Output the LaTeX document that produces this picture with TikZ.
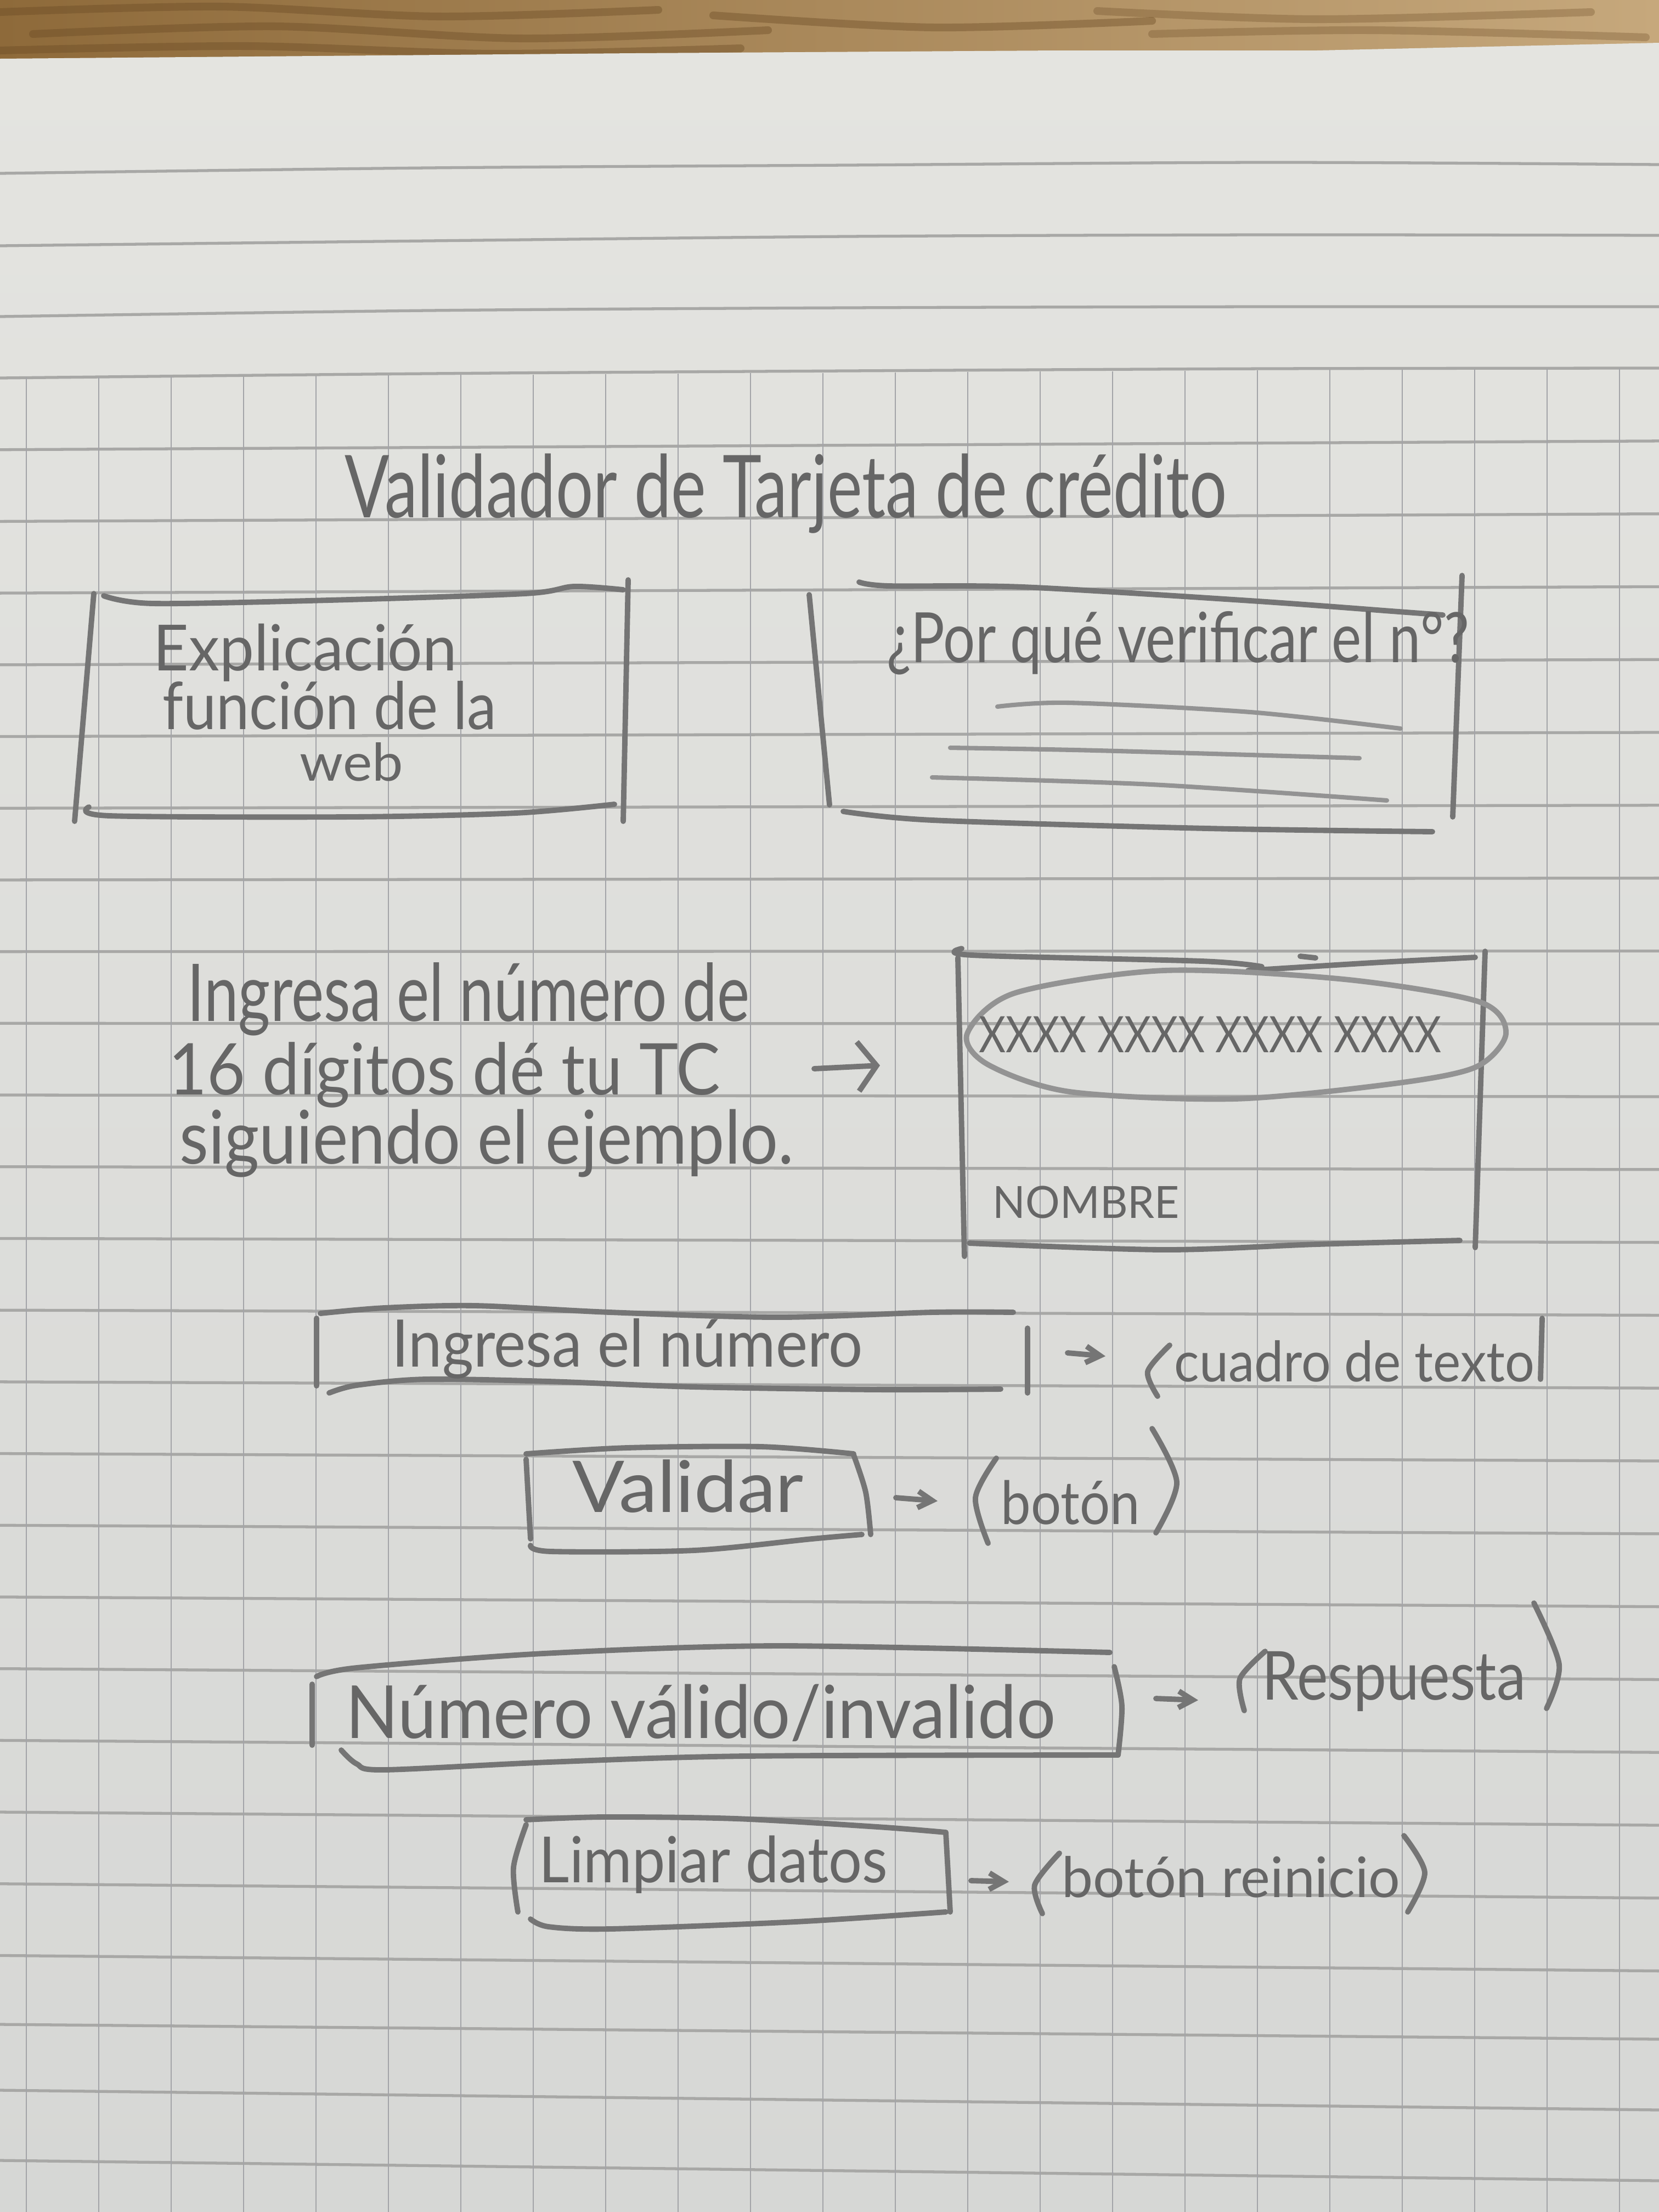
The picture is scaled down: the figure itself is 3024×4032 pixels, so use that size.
\documentclass[tikz,border=0pt]{standalone}
\usepackage{fontspec}
\setmainfont{Lato}
\usetikzlibrary{arrows.meta}

\definecolor{wood}{HTML}{8E6A3A}
\definecolor{woodlight}{HTML}{C6A87C}
\definecolor{wooddark}{HTML}{6A4A24}
\definecolor{papertop}{HTML}{E4E4E0}
\definecolor{paperbot}{HTML}{D6D7D5}
\definecolor{ruleh}{HTML}{A8A8A6}
\definecolor{rulev}{HTML}{A3A4A8}
\definecolor{lead}{HTML}{757575}
\definecolor{leadlight}{HTML}{939393}
\definecolor{ink}{HTML}{666666}

% handwritten line: width, font size, text
\newcommand{\hw}[3]{\resizebox{#1}{\height}{\fontsize{#2}{#2}\selectfont #3}}

\begin{document}
\begin{tikzpicture}[x=0.01cm,y=-0.01cm,
  pencil/.style={draw=lead,line width=2.8pt,line cap=round,line join=round},
  softpencil/.style={draw=leadlight,line width=2.3pt,line cap=round,line join=round},
  hand/.style={text=ink,inner sep=0pt,anchor=base west},
  hrule/.style={draw=ruleh,line width=1.5pt},
  vrule/.style={draw=rulev,line width=0.8pt},
  grain/.style={draw=wooddark,line width=4pt,opacity=0.4,line cap=round},
  bigarrow/.style={pencil,-{Straight Barb[length=0.34cm,width=0.9cm]}},
  smallarrow/.style={pencil,-{Straight Barb[length=0.26cm,width=0.3cm]}}]

\useasboundingbox (0,0) rectangle (3024,4032);

% ---- table top ----
\shade[left color=wood,right color=woodlight] (0,0) rectangle (3024,130);
\draw[grain] plot[smooth] coordinates {(0,22) (400,12) (800,30) (1200,18)};
\draw[grain] plot[smooth] coordinates {(60,62) (500,48) (950,70) (1400,55)};
\draw[grain] plot[smooth] coordinates {(0,92) (450,84) (900,98) (1350,88)};
\draw[grain] plot[smooth] coordinates {(1300,28) (1700,50) (2100,38)};
\draw[grain,opacity=0.3] plot[smooth] coordinates {(2000,20) (2400,35) (2900,22)};
\draw[grain,opacity=0.3] plot[smooth] coordinates {(2100,62) (2500,55) (3000,68)};

% ---- sheet ----
\shade[top color=papertop,bottom color=paperbot]
  (0,107) -- (1157,97) -- (1929,92) -- (2400,92) -- (3024,78) -- (3024,4032) -- (0,4032) -- cycle;

% ruled lines above the grid
\draw[hrule] plot[smooth] coordinates {(0,316) (780,306) (1543,301) (2314,296) (3024,300)};
\draw[hrule] plot[smooth] coordinates {(0,448) (780,439) (1543,431) (2314,428) (3024,429)};
\draw[hrule] plot[smooth] coordinates {(0,577) (780,566) (1543,561) (2314,559) (3024,559)};
\draw[hrule] plot[smooth] coordinates {(0,689) (780,681) (1543,676) (2314,672) (3024,671)};

% grid
\foreach \k in {1,...,22}{
  \pgfmathsetmacro\yl{689+130.7*\k}
  \pgfmathsetmacro\yr{\yl-18+2.1*\k}
  \draw[hrule] (0,\yl) -- (3024,\yr);
}
\draw[hrule] (0,3690) -- (3024,3717);
\draw[hrule] (0,3810) -- (3024,3846);
\draw[hrule] (0,3938) -- (3024,3975);
\foreach \j in {0,...,22}{
  \pgfmathsetmacro\xx{48+132*\j}
  \pgfmathsetmacro\yt{688-0.00562*\xx}
  \draw[vrule] (\xx,\yt) -- (\xx,4032);
}

% ---- title ----
\node[hand] (title) at (628,943) {\hw{16.07cm}{45pt}{Validador de Tarjeta de crédito}};

% ---- explanation panel ----
\draw[pencil] plot[smooth] coordinates {(189,1086) (279,1100) (600,1094) (957,1082) (1046,1069) (1136,1075)};
\draw[pencil] (171,1082) -- (136,1497);
\draw[pencil] (1145,1057) -- (1136,1497);
\draw[pencil] plot[smooth] coordinates {(162,1471) (200,1487) (640,1489) (940,1482) (1120,1466)};
\node[hand] (expl1) at (279,1222) {\hw{5.53cm}{33pt}{Explicación}};
\node[hand] (expl2) at (296,1329) {\hw{6.08cm}{34pt}{función de la}};
\node[hand] (expl3) at (546,1423) {\hw{1.88cm}{27pt}{web}};

% ---- "why" panel ----
\draw[pencil] plot[smooth] coordinates {(1566,1061) (1620,1068) (1865,1070) (2279,1095) (2550,1115) (2630,1121)};
\draw[pencil] (1475,1084) -- (1512,1467);
\draw[pencil] (2665,1049) -- (2648,1489);
\draw[pencil] plot[smooth] coordinates {(1537,1479) (1700,1495) (2200,1510) (2611,1516)};
\draw[softpencil] plot[smooth] coordinates {(1818,1288) (1948,1281) (2279,1298) (2553,1328)};
\draw[softpencil] plot[smooth] coordinates {(1732,1363) (2000,1368) (2478,1382)};
\draw[softpencil] plot[smooth] coordinates {(1699,1417) (2100,1430) (2528,1459)};
\node[hand] (why) at (1616,1207) {\hw{10.61cm}{36pt}{¿Por qué verificar el n°?}};

% ---- instructions ----
\node[hand] (ins1) at (341,1861) {\hw{10.24cm}{41.3pt}{Ingresa el número de}};
\node[hand] (ins2) at (307,1995) {\hw{10.05cm}{37pt}{16 dígitos dé tu TC}};
\node[hand] (ins3) at (327,2121) {\hw{11.19cm}{38.4pt}{siguiendo el ejemplo.}};
\coordinate (a1s) at (1484,1948);
\coordinate (a1e) at (1604,1942);
\draw[bigarrow] (a1s) -- (a1e);

% ---- card example ----
\draw[pencil] plot[smooth] coordinates {(1753,1729) (1772,1741) (2191,1752) (2300,1762)};
\draw[pencil] plot[smooth] coordinates {(2275,1769) (2500,1755) (2689,1745)};
\draw[pencil] (2370,1743) -- (2398,1746);
\draw[pencil] (1746,1746) -- (1758,2290);
\draw[pencil] (2707,1734) -- (2689,2274);
\draw[pencil] plot[smooth] coordinates {(1767,2266) (2121,2278) (2400,2268) (2661,2261)};
\draw[pencil,draw=leadlight] plot[smooth cycle] coordinates {(1763,1884) (1850,1810) (2121,1769) (2450,1785) (2696,1826) (2745,1884) (2690,1945) (2542,1975) (2250,2003) (1950,1990) (1800,1940)};
\node[hand] (digits) at (1784,1918) {\hw{8.42cm}{26pt}{XXXX XXXX XXXX XXXX}};
\node[hand] (holder) at (1809,2220) {\hw{3.40cm}{23pt}{NOMBRE}};

% ---- number field ----
\draw[pencil] plot[smooth] coordinates {(584,2394) (700,2384) (867,2380) (1112,2392) (1418,2401) (1700,2392) (1847,2392)};
\draw[pencil] (577,2403) -- (577,2526);
\draw[pencil] plot[smooth] coordinates {(600,2539) (650,2525) (776,2514) (1000,2518) (1265,2528) (1600,2533) (1824,2532)};
\draw[pencil] (1873,2421) -- (1873,2539);
\node[hand] (field) at (714,2491) {\hw{8.57cm}{34pt}{Ingresa el número}};
\coordinate (a2s) at (1946,2466);
\coordinate (a2e) at (2015,2472);
\draw[smallarrow] (a2s) -- (a2e);
\draw[pencil] plot[smooth] coordinates {(2132,2452) (2092,2500) (2110,2545)};
\node[hand] (fieldnote) at (2140,2518) {\hw{6.56cm}{29pt}{cuadro de texto}};
\draw[pencil] (2811,2403) -- (2808,2514);

% ---- validate button ----
\draw[pencil] plot[smooth] coordinates {(959,2650) (1143,2639) (1388,2637) (1556,2650)};
\draw[pencil] (959,2660) -- (967,2805);
\draw[pencil] plot[smooth] coordinates {(1556,2652) (1578,2720) (1587,2797)};
\draw[pencil] plot[smooth] coordinates {(967,2817) (1005,2828) (1265,2826) (1480,2805) (1571,2797)};
\node[hand] (validate) at (1043,2756) {\hw{4.21cm}{37pt}{Validar}};
\coordinate (a3s) at (1633,2730);
\coordinate (a3e) at (1709,2736);
\draw[smallarrow] (a3s) -- (a3e);
\draw[pencil] plot[smooth] coordinates {(1816,2658) (1778,2730) (1801,2813)};
\node[hand] (validatenote) at (1824,2778) {\hw{2.53cm}{31pt}{botón}};
\draw[pencil] plot[smooth] coordinates {(2100,2604) (2145,2702) (2107,2794)};

% ---- result message ----
\draw[pencil] plot[smooth] coordinates {(577,3056) (650,3040) (990,3014) (1418,3000) (2023,3012)};
\draw[pencil] (569,3070) -- (569,3181);
\draw[pencil] plot[smooth] coordinates {(622,3190) (650,3215) (699,3226) (1000,3212) (1357,3201) (2038,3199)};
\draw[pencil] plot[smooth] coordinates {(2031,3038) (2045,3110) (2038,3199)};
\node[hand] (result) at (630,3168) {\hw{12.93cm}{38pt}{Número válido/invalido}};
\coordinate (a4s) at (2107,3096);
\coordinate (a4e) at (2184,3099);
\draw[smallarrow] (a4s) -- (a4e);
\draw[pencil] plot[smooth] coordinates {(2306,3010) (2260,3060) (2268,3118)};
\node[hand] (resultnote) at (2300,3098) {\hw{4.80cm}{35pt}{Respuesta}};
\draw[pencil] plot[smooth] coordinates {(2796,2922) (2842,3034) (2819,3114)};

% ---- reset button ----
\draw[pencil] plot[smooth] coordinates {(959,3326) (936,3404) (944,3485)};
\draw[pencil] plot[smooth] coordinates {(959,3317) (1100,3312) (1342,3315) (1600,3330) (1724,3340)};
\draw[pencil] (1724,3340) -- (1732,3485);
\draw[pencil] plot[smooth] coordinates {(967,3498) (1000,3512) (1112,3516) (1450,3503) (1724,3485)};
\node[hand] (reset) at (982,3431) {\hw{6.35cm}{33pt}{Limpiar datos}};
\coordinate (a5s) at (1770,3428);
\coordinate (a5e) at (1839,3430);
\draw[smallarrow] (a5s) -- (a5e);
\draw[pencil] plot[smooth] coordinates {(1931,3378) (1886,3436) (1900,3488)};
\node[hand] (resetnote) at (1935,3458) {\hw{6.16cm}{29pt}{botón reinicio}};
\draw[pencil] plot[smooth] coordinates {(2559,3346) (2597,3413) (2566,3485)};

\end{tikzpicture}
\end{document}
